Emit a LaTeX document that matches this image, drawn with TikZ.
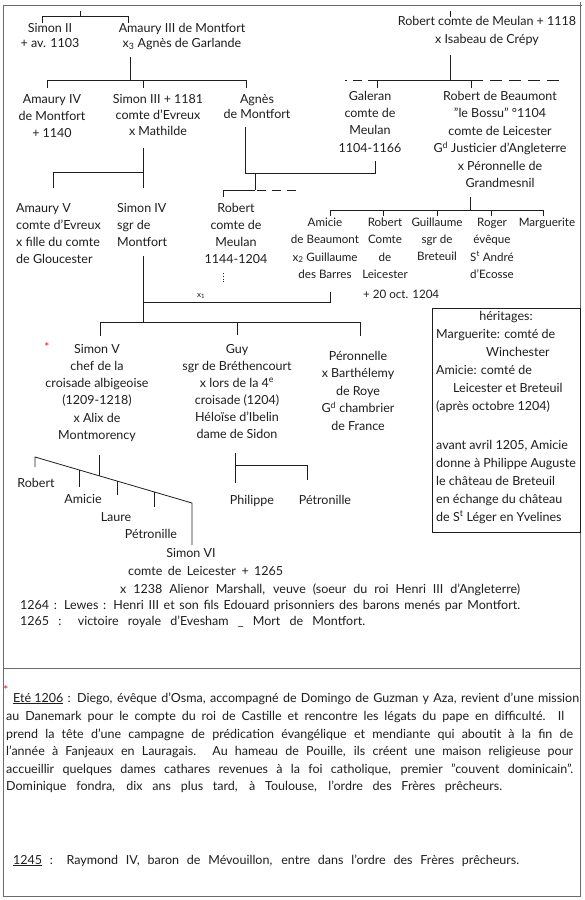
\documentclass[tikz,border=0pt]{standalone}
\usepackage{fontspec}
\setmainfont{Lato}
\definecolor{ink}{HTML}{1E1E1E}
\definecolor{framec}{HTML}{6A6A6A}
\definecolor{redmark}{HTML}{D42020}
\newcommand\hsz[1]{\fontsize{12.5}{#1}\selectfont}
\newcommand\hszs[1]{\fontsize{11.6}{#1}\selectfont}
\tikzset{
  hand/.style={font=\hsz{17}, text=ink, inner sep=0pt, align=center, anchor=base},
  handl/.style={hand, align=left, anchor=base west},
  link/.style={draw=ink, line width=0.8pt},
  framel/.style={draw=framec, line width=0.9pt},
  astmark/.style={text=redmark, inner sep=0pt, font=\fontsize{12}{12}\selectfont},
}
\begin{document}
\begin{tikzpicture}[x=1pt,y=-1pt]
\useasboundingbox (0,0) rectangle (584,900);
\fill[white] (0,0) rectangle (584,900);
% frame
\draw[framel] (3,896) -- (3,5) -- (582,5);
\draw[framel] (580,2) -- (580,896) -- (3,896);
\draw[framel] (3,668) -- (580,668);

% ---------- row 1 (anchors = baseline of last line)
\node[hand, font=\hsz{15}] (simonII) at (50,47) {Simon II\\+ av. 1103};
\node[hand, font=\hsz{15}] (amauryIII) at (182,47) {Amaury III de Montfort\\x\textsubscript{3} Agnès de Garlande};
\node[hand, font=\hsz{18}] (robertM) at (487,43) {Robert comte de Meulan + 1118\\x Isabeau de Crépy};

\coordinate (p1a) at (42,23); \coordinate (p1b) at (128,23);
\draw[link] (p1a) -- (42,16) -- (128,16) -- (p1b);
\draw[link] (80,16) -- (80,11);
\draw[link] (450,11) -- (450,17);

\coordinate (a3) at (130,57);
\draw[link] (a3) -- (130,80);
\coordinate (c1) at (47,88); \coordinate (c2) at (143,88); \coordinate (c3) at (246,88);
\draw[link] (c1) -- (47,80) -- (246,80) -- (c3);
\draw[link] (143,80) -- (c2);

\coordinate (rm) at (450,55);
\draw[link] (rm) -- (450,80);
\coordinate (d1) at (377,88); \coordinate (d2) at (471,88);
\draw[link] (d1) -- (377,80) -- (471,80) -- (d2);
\draw[link, dash pattern=on 9pt off 6pt] (377,80) -- (345,80);
\draw[link, dash pattern=on 12pt off 7pt] (471,80) -- (560,80);

% ---------- row 2
\node[hand] (amauryIV) at (52,137) {Amaury IV\\de Montfort\\+ 1140};
\node[hand, font=\hsz{16}] (simonIII) at (158,135) {Simon III + 1181\\comte d'Evreux\\x Mathilde};
\node[hand, font=\hsz{15}] (agnes) at (257,118) {Agnès\\de Montfort};
\node[hand, font=\hsz{17.3}] (galeran) at (370,152) {Galeran\\comte de\\Meulan\\1104-1166};
\node[hand, font=\hsz{17.5}] (robertB) at (500,187.5) {Robert de Beaumont\\"le Bossu" °1104\\comte de Leicester\\G\textsuperscript{d} Justicier d'Angleterre\\x Péronnelle de\\Grandmesnil};

% Simon III -> children
\coordinate (s3) at (143,148);
\coordinate (e1) at (53,188); \coordinate (e2) at (143,188);
\draw[link] (s3) -- (e2);
\draw[link] (e1) -- (53,172) -- (143,172);

% Agnes x Galeran
\coordinate (ag) at (245,127); \coordinate (ga) at (375,161);
\draw[link] (ag) -- (245,173) -- (375,173) -- (ga);
\coordinate (f1) at (223,197);
\draw[link] (255,173) -- (255,190);
\draw[link] (f1) -- (223,190) -- (255,190);
\draw[link, dash pattern=on 9pt off 6pt] (257,190) -- (298,190);

% Robert de Beaumont -> children
\coordinate (rb) at (470,197);
\draw[link] (rb) -- (470,210);
\coordinate (g1) at (330,216); \coordinate (g2) at (383,216); \coordinate (g3) at (437,216);
\coordinate (g4) at (491,216); \coordinate (g5) at (543,216);
\draw[link] (g1) -- (330,210) -- (543,210) -- (g5);
\draw[link] (383,210) -- (g2);
\draw[link] (437,210) -- (g3);
\draw[link] (491,210) -- (g4);

% ---------- row 3
\node[handl] (amauryV) at (16,263) {Amaury V\\comte d'Evreux\\x fille du comte\\de Gloucester};
\node[handl] (simonIV) at (117,246) {Simon IV\\sgr de\\Montfort};
\node[hand] (robertMe) at (236,263) {Robert\\comte de\\Meulan\\1144-1204};
\node[hand, font=\hszs{17.5}] (amicieB) at (325,278.5) {Amicie\\de Beaumont\\x\textsubscript{2} Guillaume\\des Barres};
\node[hand, font=\hszs{17.5}] (robertL) at (385,278.5) {Robert\\Comte\\de\\Leicester};
\node[handl, font=\hszs{17}] (robertLd) at (363,298) {+ 20 oct. 1204};
\node[hand, font=\hszs{17}] (guillaume) at (437,260) {Guillaume\\sgr de\\Breteuil};
\node[hand, font=\hszs{17.5}] (roger) at (492,278.5) {Roger\\évêque\\S\textsuperscript{t} André\\d'Ecosse};
\node[hand, font=\hszs{17}] (marguerite) at (547,226) {Marguerite};

\draw[link, dotted, line width=1pt] (223,273) -- (223,283);

% Simon IV x Amicie
\coordinate (s4) at (143,256); \coordinate (am) at (330,292);
\draw[link] (s4) -- (143,322);
\draw[link] (am) -- (330,302) -- (143,302);
\node[text=ink, inner sep=0pt, font=\fontsize{8}{8}\selectfont] (x1) at (201,296) {x\textsubscript{1}};

\coordinate (h1) at (100,336); \coordinate (h2) at (237,335); \coordinate (h3) at (360,336);
\draw[link] (h1) -- (100,322) -- (360,322) -- (h3);
\draw[link] (237,322) -- (h2);

% ---------- row 4
\node[astmark] (ast1) at (47,347) {*};
\node[hand, font=\hsz{17.3}] (simonV) at (97,439.5) {Simon V\\chef de la\\croisade albigeoise\\(1209-1218)\\x Alix de\\Montmorency};
\node[hand, font=\hsz{17}] (guy) at (237,438) {Guy\\sgr de Bréthencourt\\x lors de la 4\textsuperscript{e}\\croisade (1204)\\Héloïse d'Ibelin\\dame de Sidon};
\node[hand, font=\hsz{17.5}] (peronnelle) at (358,430) {Péronnelle\\x Barthélemy\\de Roye\\G\textsuperscript{d} chambrier\\de France};

% heritages box
\node[draw=ink, line width=0.8pt, inner sep=0pt, minimum width=148pt, minimum height=224pt, anchor=north west] (herit) at (432,308) {};
\node[hand] (heritT) at (506,320) {héritages:};
\node[handl, font=\hsz{18}] (heritA) at (436,410) {Marguerite: comté de\\\hspace*{50pt}Winchester\\Amicie: comté de\\\hspace*{17pt}Leicester et Breteuil\\(après octobre 1204)};
\node[handl, font=\hsz{17.8}] (heritB) at (436,521) {avant avril 1205, Amicie\\donne à Philippe Auguste\\le château de Breteuil\\en échange du château\\de S\textsuperscript{t} Léger en Yvelines};

% Simon V children
\coordinate (k0) at (35,457); \coordinate (k5) at (192,503);
\coordinate (mm) at (99,455);
\draw[link] (35,467) -- (k0) -- (k5) -- (192,545);
\draw[link] (mm) -- (99,476);
\draw[link] (79,470) -- (79,487);
\draw[link] (117,481) -- (117,495);
\draw[link] (154,492) -- (154,507);

\node[hand] (robert2) at (36,487) {Robert};
\node[hand] (amicie2) at (83,503) {Amicie};
\node[hand] (laure) at (116,521) {Laure};
\node[hand] (petronille2) at (151,538) {Pétronille};
\node[hand] (simonVI) at (191,557) {Simon VI};
\node[handl] (simonVIb) at (128,575) {\makebox[155pt][s]{comte de Leicester + 1265}};
\node[handl] (simonVIc) at (120,593) {\makebox[400pt][s]{x 1238 Alienor Marshall, veuve (soeur du roi Henri III d'Angleterre)}};
\node[handl] (lewes) at (20,609) {\makebox[500pt][s]{1264 : Lewes : Henri III et son fils Edouard prisonniers des barons menés par Montfort.}};
\node[handl] (evesham) at (20,625) {\makebox[345pt][s]{1265 : victoire royale d'Evesham \_ Mort de Montfort.}};

% Guy children
\coordinate (gy) at (235,453); \coordinate (gc1) at (235,483); \coordinate (gc2) at (307,480);
\draw[link] (gy) -- (gc1);
\draw[link] (235,465) -- (307,465) -- (gc2);
\node[hand] (philippe) at (252,504) {Philippe};
\node[hand] (petronille3) at (325,504) {Pétronille};

% ---------- notes
\node[astmark] (ast2) at (6,690) {*};
\node[handl] (n1) at (13,702) {\makebox[566pt][s]{\underline{Eté 1206} : Diego, évêque d'Osma, accompagné de Domingo de Guzman y Aza, revient d'une mission}};
\node[handl] (n2) at (6,720) {\makebox[558pt][s]{au Danemark pour le compte du roi de Castille et rencontre les légats du pape en difficulté. Il}};
\node[handl] (n3) at (6,738) {\makebox[567pt][s]{prend la tête d'une campagne de prédication évangélique et mendiante qui aboutit à la fin de}};
\node[handl] (n4) at (6,755) {\makebox[567pt][s]{l'année à Fanjeaux en Lauragais. Au hameau de Pouille, ils créent une maison religieuse pour}};
\node[handl] (n5) at (6,773) {\makebox[567pt][s]{accueillir quelques dames cathares revenues à la foi catholique, premier "couvent dominicain".}};
\node[handl] (n6) at (6,790) {\makebox[496pt][s]{Dominique fondra, dix ans plus tard, à Toulouse, l'ordre des Frères prêcheurs.}};
\node[handl] (n7) at (13,864) {\makebox[506pt][s]{\underline{1245} : Raymond IV, baron de Mévouillon, entre dans l'ordre des Frères prêcheurs.}};
\end{tikzpicture}
\end{document}
